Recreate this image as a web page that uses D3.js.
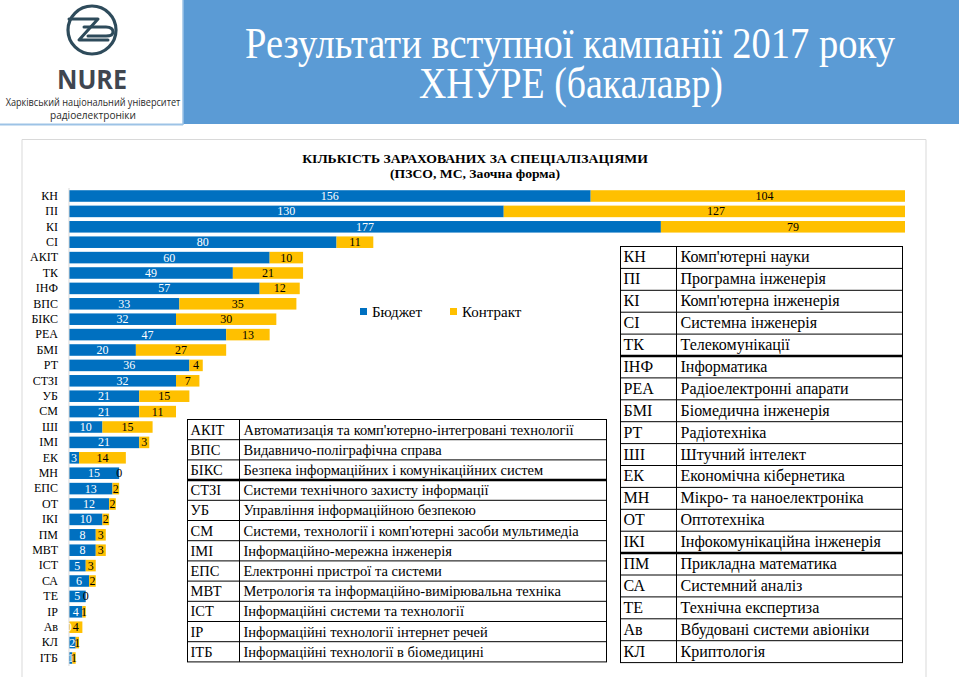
<!DOCTYPE html>
<html><head><meta charset="utf-8">
<script src="https://cdn.jsdelivr.net/npm/d3@7"></script>
<style>body{margin:0;background:#fff}svg{display:block}</style>
</head><body>
<svg id="c" width="959" height="677" style="font-family:'Liberation Serif'"></svg>
<script>
const categories = ["КН","ПІ","КІ","СІ","АКІТ","ТК","ІНФ","ВПС","БІКС","РЕА","БМІ","РТ","СТЗІ","УБ","СМ","ШІ","ІМІ","ЕК","МН","ЕПС","ОТ","ІКІ","ПМ","МВТ","ІСТ","СА","ТЕ","ІР","Ав","КЛ","ІТБ"];
const budget   = [156,130,177,80,60,49,57,33,32,47,20,36,32,21,21,10,21,3,15,13,12,10,8,8,5,6,5,4,0,2,1];
const contract = [104,127,79,11,10,21,12,35,30,13,27,4,7,15,11,15,3,14,0,2,2,2,3,3,3,2,0,1,4,1,1];
const seriesNames = ["Бюджет","Контракт"];
const xDomainMax = 250;

const pageTitle = ["Результати вступної кампанії 2017 року","ХНУРЕ (бакалавр)"];
const chartTitle = ["КІЛЬКІСТЬ ЗАРАХОВАНИХ ЗА СПЕЦІАЛІЗАЦІЯМИ","(ПЗСО, МС, Заочна форма)"];
const uniName = ["Харківський національний університет","радіоелектроніки"];

const tableACodes = ["АКІТ","ВПС","БІКС","СТЗІ","УБ","СМ","ІМІ","ЕПС","МВТ","ІСТ","ІР","ІТБ"];
const tableANames = ["Автоматизація та комп'ютерно-інтегровані технології","Видавничо-поліграфічна справа","Безпека інформаційних і комунікаційних систем","Системи технічного захисту інформації","Управління інформаційною безпекою","Системи, технології і комп'ютерні засоби мультимедіа","Інформаційно-мережна інженерія","Електронні пристрої та системи","Метрологія та інформаційно-вимірювальна техніка","Інформаційні системи та технології","Інформаційні технології інтернет речей","Інформаційні технології в біомедицині"];
const tableBCodes = ["КН","ПІ","КІ","СІ","ТК","ІНФ","РЕА","БМІ","РТ","ШІ","ЕК","МН","ОТ","ІКІ","ПМ","СА","ТЕ","Ав","КЛ"];
const tableBNames = ["Комп'ютерні науки","Програмна інженерія","Комп'ютерна інженерія","Системна інженерія","Телекомунікації","Інформатика","Радіоелектронні апарати","Біомедична інженерія","Радіотехніка","Штучний інтелект","Економічна кібернетика","Мікро- та наноелектроніка","Оптотехніка","Інфокомунікаційна інженерія","Прикладна математика","Системний аналіз","Технічна експертиза","Вбудовані системи авіоніки","Криптологія"];

const BLUE = "#0070C0", ORANGE = "#FFC000";
const SERIF = '"Liberation Serif"';
const SANS = '"Open Sans"';
const svg = d3.select("#c");

// text squeezed horizontally to a target width (like the condensed slide font)
function fitText(parent, str, cx, baseline, width, size, weight, fill, family){
  const g = parent.append("g");
  const t = g.append("text").attr("x",0).attr("y",0).attr("text-anchor","middle")
    .style("font-family",family).style("font-size",size+"px").style("font-weight",weight)
    .attr("fill",fill).text(str);
  const w = t.node().getComputedTextLength() || width;
  g.attr("transform",`translate(${cx},${baseline}) scale(${width/w},1)`);
  return t;
}

// ---------- Header ----------
svg.append("rect").attr("x",183).attr("y",0).attr("width",776).attr("height",124).attr("fill","#5B9BD5");
svg.append("line").attr("x1",0).attr("x2",183).attr("y1",124.5).attr("y2",124.5).attr("stroke","#9DC3E6").attr("stroke-width",2);
svg.append("line").attr("x1",183).attr("x2",183).attr("y1",0).attr("y2",125).attr("stroke","#9DC3E6").attr("stroke-width",1.5);
fitText(svg, pageTitle[0], 570, 58, 650, 44, 400, "#fff", SERIF);
fitText(svg, pageTitle[1], 571, 98, 304, 44, 400, "#fff", SERIF);

// Logo
const logo = svg.append("g").attr("fill","none").attr("stroke","#2E4B5B").attr("stroke-linecap","round").attr("stroke-linejoin","round");
logo.append("circle").attr("cx",92).attr("cy",30).attr("r",24).attr("stroke-width",3.2);
logo.append("path").attr("d","M69,19 L98,19 L79,40 L108,40").attr("stroke-width",3);
logo.append("path").attr("d","M84,27 L106,27 Q113,27 113,32 Q113,36 106,36 L88,36").attr("stroke-width",3);
fitText(svg, "NURE", 92, 89, 70, 26, 700, "#3F4650", SANS);
fitText(svg, uniName[0], 93, 106, 175, 10.5, 400, "#2b2b2b", SANS);
fitText(svg, uniName[1], 93, 119, 86, 10.5, 400, "#2b2b2b", SANS);

// ---------- Chart frame ----------
svg.append("path").attr("d","M22,680 L22,139.5 L926,139.5 L926,680").attr("fill","none").attr("stroke","#D9D9D9").attr("stroke-width",1);
fitText(svg, chartTitle[0], 475, 163, 346, 13.5, 700, "#000", SERIF);
fitText(svg, chartTitle[1], 475, 178, 170, 13.5, 700, "#000", SERIF);

// ---------- Bars ----------
const x = d3.scaleLinear().domain([0,xDomainMax]).range([69,905]);
const y = d3.scaleBand().domain(categories).range([188.3,665.7]).paddingInner(0.25).paddingOuter(0.125);

const data = categories.map((c,i)=>({c, b:budget[i], k:contract[i]}));
svg.append("defs").append("clipPath").attr("id","plot").append("rect")
  .attr("x",x(0)).attr("y",180).attr("width",x(xDomainMax)-x(0)).attr("height",500);

const bars = svg.append("g").attr("clip-path","url(#plot)");
bars.selectAll("rect.b").data(data).join("rect").attr("class","b")
  .attr("x",x(0)).attr("y",d=>y(d.c)).attr("height",y.bandwidth())
  .attr("width",d=>x(d.b)-x(0)).attr("fill",BLUE);
bars.selectAll("rect.k").data(data).join("rect").attr("class","k")
  .attr("x",d=>x(d.b)).attr("y",d=>y(d.c)).attr("height",y.bandwidth())
  .attr("width",d=>x(d.b+d.k)-x(d.b)).attr("fill",ORANGE);

// axis
const yAxis = d3.axisLeft(y).tickSize(0).tickPadding(11);
const ag = svg.append("g").attr("transform",`translate(${x(0)},0)`).call(yAxis);
ag.attr("font-family",null).attr("font-size",null);
ag.select(".domain").attr("stroke","#D9D9D9").attr("d",`M0,${188}V${666}`);
ag.selectAll("text").style("font-family",SERIF).style("font-size","12px").attr("fill","#000");

// labels
const lab = svg.append("g").attr("text-anchor","middle");
lab.selectAll("text.lb").data(data).join("text").attr("class","lb")
  .style("font-family",SERIF).style("font-size","12px")
  .attr("x",d=>(x(0)+x(d.b))/2).attr("y",d=>y(d.c)+y.bandwidth()/2+4)
  .attr("fill","#fff").text(d=>d.b);
lab.selectAll("text.lk").data(data).join("text").attr("class","lk")
  .style("font-family",SERIF).style("font-size","12px")
  .attr("x",d=>(x(d.b)+x(d.b+d.k))/2).attr("y",d=>y(d.c)+y.bandwidth()/2+4)
  .attr("fill","#000").text(d=>d.k);

// legend
const leg = svg.append("g");
[[BLUE,360,372],[ORANGE,450,462]].forEach((s,i)=>{
  leg.append("rect").attr("x",s[1]).attr("y",308).attr("width",7).attr("height",7).attr("fill",s[0]);
  leg.append("text").style("font-family",SERIF).style("font-size","15px").attr("x",s[2]).attr("y",317).text(seriesNames[i]);
});

// ---------- Tables ----------
function drawTable(codes, names, x0, xDiv, x1, y0, rowH, thick, fs){
  const g = svg.append("g");
  const n = codes.length;
  g.append("rect").attr("x",x0).attr("y",y0).attr("width",x1-x0).attr("height",rowH*n)
    .attr("fill","#fff").attr("stroke","#000").attr("stroke-width",1);
  g.append("line").attr("x1",xDiv).attr("x2",xDiv).attr("y1",y0).attr("y2",y0+rowH*n).attr("stroke","#000");
  for(let i=1;i<n;i++){
    g.append("line").attr("x1",x0).attr("x2",x1).attr("y1",y0+rowH*i).attr("y2",y0+rowH*i)
      .attr("stroke","#000").attr("stroke-width",thick.includes(i)?2.5:1);
  }
  codes.forEach((c,i)=>{
    g.append("text").style("font-family",SERIF).style("font-size",fs+"px").attr("x",x0+3).attr("y",y0+rowH*i+rowH/2+5).text(c);
    g.append("text").style("font-family",SERIF).style("font-size",fs+"px").attr("x",xDiv+4).attr("y",y0+rowH*i+rowH/2+5).text(names[i]);
  });
}
drawTable(tableACodes, tableANames, 187.5, 239.5, 606.5, 419.5, 20.2, [3], 14.5);
drawTable(tableBCodes, tableBNames, 620.5, 676.5, 902.5, 246.5, 21.9, [5,14], 16);
</script>
</body></html>
